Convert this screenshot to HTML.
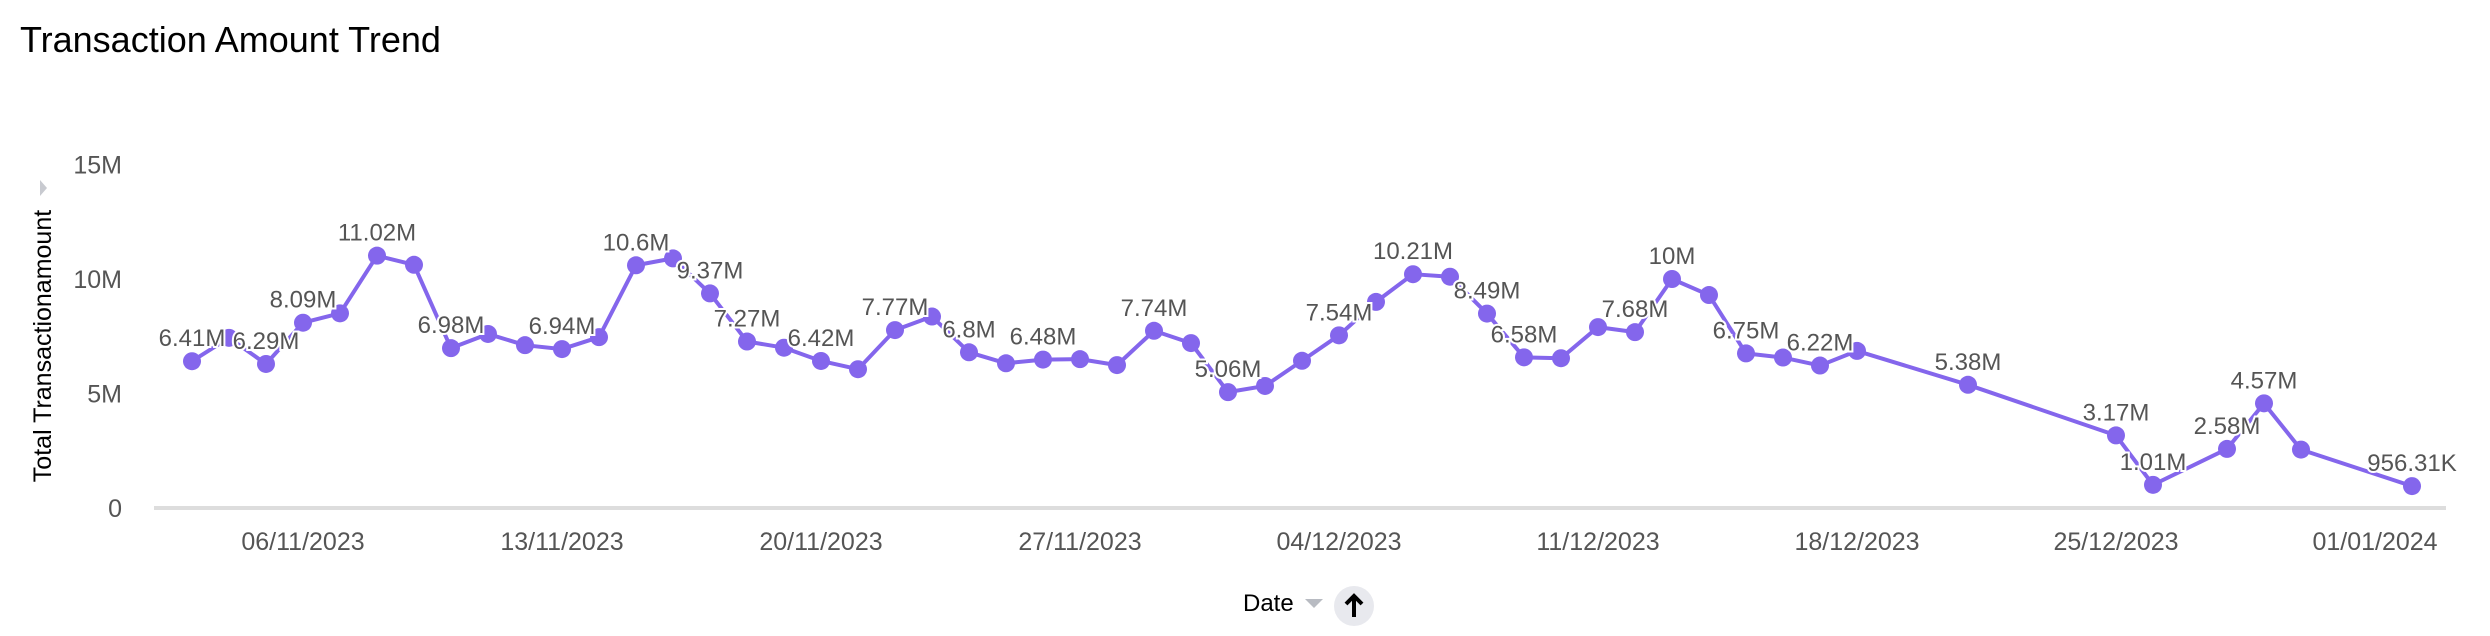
<!DOCTYPE html>
<html><head><meta charset="utf-8"><style>
html,body{margin:0;padding:0;background:#fff;width:2490px;height:636px;overflow:hidden}
svg{display:block;font-family:"Liberation Sans",sans-serif}
</style></head><body>
<svg id="chart" width="2490" height="636">
<text x="20" y="52" font-size="36" fill="#000" font-weight="500">Transaction Amount Trend</text>
<text transform="translate(51,346) rotate(-90)" text-anchor="middle" font-size="25" fill="#000">Total Transactionamount</text>
<path d="M40,180 L47,188 L40,196 Z" fill="#c8cad0"/>
<line x1="154" y1="508" x2="2446" y2="508" stroke="#dddddd" stroke-width="4"/>
<g id="yticks"></g><g id="xticks"></g><g id="series"></g><g id="labels"></g>
<text x="1243" y="611" font-size="24" fill="#000">Date</text>
<path d="M1305,599 L1323,599 L1314,608 Z" fill="#b8bbc2"/>
<g>
<circle cx="1354" cy="606" r="20" fill="#e8e9ee"/>
<path d="M1354,596 L1354,617 M1346,604 L1354,596 L1362,604" stroke="#000" stroke-width="4" fill="none"/>
</g>
</svg>
<script>
const days = [-3,-2,-1,0,1,2,3,4,5,6,7,8,9,10,11,12,13,14,15,16,17,18,19,20,21,22,23,24,25,26,27,28,29,30,31,32,33,34,35,36,37,38,39,40,41,42,45,49,50,52,53,54,57];
const values = [6.41,7.43,6.29,8.09,8.5,11.02,10.62,6.98,7.6,7.11,6.94,7.46,10.6,10.9,9.37,7.27,7.0,6.42,6.06,7.77,8.36,6.8,6.32,6.48,6.5,6.24,7.74,7.2,5.06,5.33,6.43,7.54,9.0,10.21,10.1,8.49,6.58,6.54,7.9,7.68,10.0,9.3,6.75,6.57,6.22,6.86,5.38,3.17,1.01,2.58,4.57,2.55,0.956];
const labels = ["6.41M",null,"6.29M","8.09M",null,"11.02M",null,"6.98M",null,null,"6.94M",null,"10.6M",null,"9.37M","7.27M",null,"6.42M",null,"7.77M",null,"6.8M",null,"6.48M",null,null,"7.74M",null,"5.06M",null,null,"7.54M",null,"10.21M",null,"8.49M","6.58M",null,null,"7.68M","10M",null,"6.75M",null,"6.22M",null,"5.38M","3.17M","1.01M","2.58M","4.57M",null,"956.31K"];
const yTicks = [0,5,10,15];
const yTickLabels = ["0","5M","10M","15M"];
const xTickDays = [0,7,14,21,28,35,42,49,56];
const xTickLabels = ["06/11/2023","13/11/2023","20/11/2023","27/11/2023","04/12/2023","11/12/2023","18/12/2023","25/12/2023","01/01/2024"];
const NS="http://www.w3.org/2000/svg";
function xs(d){return 303+d*37.0;}
function ys(v){return 508-v*22.9;}
function mk(tag,attrs,parent){const e=document.createElementNS(NS,tag);for(const k in attrs)e.setAttribute(k,attrs[k]);parent.appendChild(e);return e;}
const yt=document.getElementById('yticks');
yTicks.forEach((v,i)=>{const t=mk('text',{x:122,y:ys(v)+9,'text-anchor':'end','font-size':25,fill:'#555'},yt);t.textContent=yTickLabels[i];

});
const xt=document.getElementById('xticks');
xTickDays.forEach((d,i)=>{const t=mk('text',{x:xs(d),y:550,'text-anchor':'middle','font-size':25,fill:'#555'},xt);t.textContent=xTickLabels[i];

});
const s=document.getElementById('series');
const pts=days.map((d,i)=>xs(d)+','+ys(values[i])).join(' ');
const pl=mk('polyline',{points:pts,fill:'none',stroke:'#8466ec','stroke-width':4,'stroke-linejoin':'round'},s);


days.forEach((d,i)=>{const c=mk('circle',{cx:xs(d),cy:ys(values[i]),r:9,fill:'#8466ec'},s);

});
const lg=document.getElementById('labels');
days.forEach((d,i)=>{if(!labels[i])return;const t=mk('text',{x:xs(d),y:ys(values[i])-15,'text-anchor':'middle','font-size':24,fill:'#555',stroke:'#fff','stroke-width':4,'paint-order':'stroke'},lg);t.textContent=labels[i];

});
</script>
</body></html>
